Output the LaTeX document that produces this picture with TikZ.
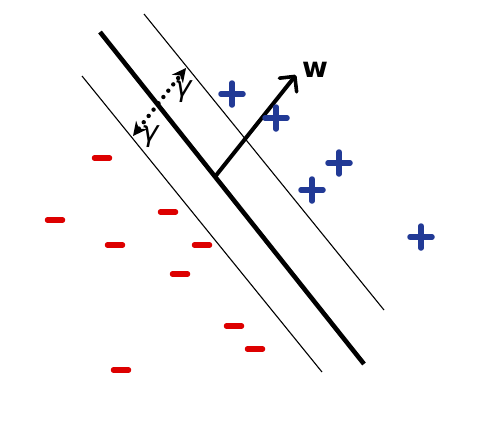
\documentclass[tikz,border=0pt]{standalone}
\usepackage{fontspec}
\setsansfont{DejaVu Sans}
\usetikzlibrary{arrows.meta}
\definecolor{pblue}{HTML}{223A96}
\definecolor{mred}{HTML}{DD0000}
\tikzset{
  thinline/.style={line width=1.1pt,black},
  mainline/.style={line width=4.6pt,black},
  minussign/.style={mred,line width=5.5pt,line cap=round},
  plussign/.style={pblue,line width=5.5pt,line cap=round},
  gammalabel/.style={font=\sffamily\itshape\fontsize{29}{29}\selectfont,inner sep=0pt},
}
\newcommand{\mysminus}[2]{\draw[minussign] (#1-7.5,#2) -- (#1+7.5,#2);}
\newcommand{\myplus}[2]{\draw[plussign] (#1-11,#2) -- (#1+11,#2); \draw[plussign] (#1,#2-11) -- (#1,#2+11);}
\begin{document}
\begin{tikzpicture}[x=1pt,y=-1pt]
\useasboundingbox[fill=white] (0,0) rectangle (479,445);
% lines
\coordinate (ua) at (144,14); \coordinate (ub) at (384,310);
\coordinate (la) at (82,76); \coordinate (lb) at (322,372);
\coordinate (ma) at (100,32); \coordinate (mb) at (364,364);
\draw[thinline] (ua) -- (ub);
\draw[thinline] (la) -- (lb);
\draw[mainline] (ma) -- (mb);
% w arrow
\coordinate (ws) at (214,178); \coordinate (we) at (296,75);
\draw[line width=4pt,line cap=butt,-{Straight Barb[length=11pt,width=22pt,line width=3.6pt,round]}] (ws) -- (we);
\node[font=\sffamily\bfseries\fontsize{28}{28}\selectfont,inner sep=0pt] (wl) at (315,70) {w};
% gamma arrow
\coordinate (ga) at (133,136); \coordinate (gb) at (186,68);
\draw[line width=4.4pt,dash pattern=on 0pt off 8pt,line cap=round,{Stealth[length=14pt,width=14pt,line width=0pt]}-{Stealth[length=14pt,width=14pt,line width=0pt]}] (ga) -- (gb);
\node[gammalabel] (g1) at (183,92) {γ};
\node[gammalabel] (g2) at (150,137) {γ};
% minus
\mysminus{102}{158}
\mysminus{55}{220}
\mysminus{168}{212}
\mysminus{115}{245}
\mysminus{202}{245}
\mysminus{180}{274}
\mysminus{234}{326}
\mysminus{255}{349}
\mysminus{121}{370}
% plus
\myplus{232}{94}
\myplus{276}{118}
\myplus{339}{163}
\myplus{312}{190}
\myplus{421}{237}
\end{tikzpicture}
\end{document}
